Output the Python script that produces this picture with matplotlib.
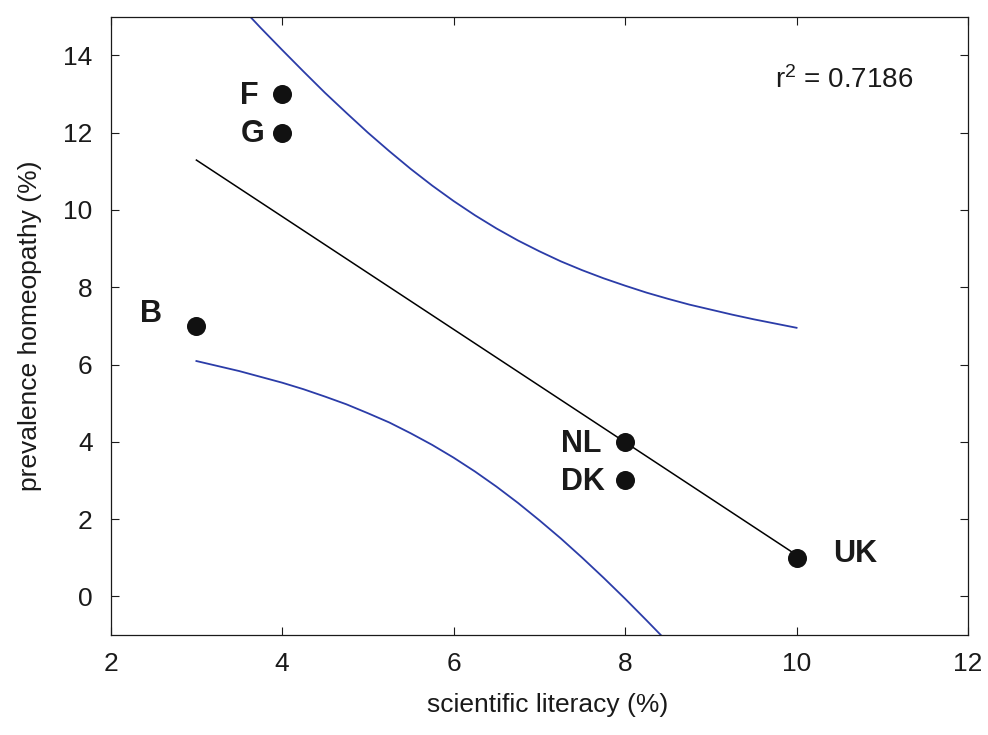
import numpy as np
import matplotlib
matplotlib.use("Agg")
import matplotlib.pyplot as plt

plt.rcParams["font.family"] = ["Liberation Sans", "DejaVu Sans"]
plt.rcParams["mathtext.fontset"] = "custom"
plt.rcParams["mathtext.rm"] = "Liberation Sans"
plt.rcParams["mathtext.it"] = "Liberation Sans:italic"

# =========================================================
# DATA
# =========================================================

countries = ["F", "G", "B", "NL", "DK", "UK"]
sci_literacy = [4, 4, 3, 8, 8, 10]
homeopathy = [13, 12, 7, 4, 3, 1]

# regression line end points
fit_x = [3, 10]
fit_y = [11.29, 1.07]

# blue bands
band_x = [3.0, 3.25, 3.5, 3.75, 4.0, 4.25, 4.5, 4.75, 5.0, 5.25, 5.5, 5.75,
          6.0, 6.25, 6.5, 6.75, 7.0, 7.25, 7.5, 7.75, 8.0, 8.25, 8.5, 8.75,
          9.0, 9.25, 9.5, 9.75, 10.0]
band_upper = [16.50, 15.90, 15.30, 14.71, 14.14, 13.58, 13.03, 12.51, 12.00,
              11.52, 11.06, 10.63, 10.23, 9.86, 9.52, 9.21, 8.93, 8.67, 8.44,
              8.23, 8.04, 7.86, 7.70, 7.55, 7.42, 7.29, 7.17, 7.06, 6.95]
band_lower = [6.09, 5.96, 5.83, 5.68, 5.53, 5.36, 5.17, 4.97, 4.74,
              4.50, 4.22, 3.92, 3.59, 3.23, 2.84, 2.42, 1.97, 1.50, 1.00,
              0.48, -0.06, -0.62, -1.19, -1.77, -2.36, -2.97, -3.58, -4.20, -4.82]

r2_text = "r$^2$ = 0.7186"

# label offsets in points (left edge, baseline) from each marker
label_offsets = {
    "F": (-30.0, -7.0),
    "G": (-30.0, -6.6),
    "B": (-40.5, 3.0),
    "NL": (-46.0, -7.0),
    "DK": (-46.0, -7.2),
    "UK": (26.5, -2.8),
}

# =========================================================
# PLOT
# =========================================================

fig = plt.figure(figsize=(9.88, 7.35), dpi=100)
ax = fig.add_axes([0.112, 0.136, 0.8678, 0.8413])

ax.plot(band_x, band_upper, color="#2b3ca8", lw=1.3, zorder=2)
ax.plot(band_x, band_lower, color="#2b3ca8", lw=1.3, zorder=2)
ax.plot(fit_x, fit_y, color="black", lw=1.1, zorder=3)

ax.plot(sci_literacy, homeopathy, "o", color="#111111", ms=13.7, mew=0, zorder=4)

for name, x, y in zip(countries, sci_literacy, homeopathy):
    ax.annotate(name, (x, y), xytext=label_offsets[name], textcoords="offset points",
                ha="left", va="baseline", fontsize=22, fontweight="bold", color="#1a1a1a")

ax.text(0.775, 0.8847, r2_text, transform=ax.transAxes, ha="left", va="baseline",
        fontsize=20, color="#1a1a1a")

ax.set_xlim(2, 12)
ax.set_ylim(-1, 15)
ax.set_xticks(np.arange(2, 13, 2))
ax.set_yticks(np.arange(0, 15, 2))

ax.tick_params(direction="in", length=5.8, width=0.8, top=True, right=True,
               labelsize=19, colors="#1a1a1a")
ax.tick_params(axis="x", pad=12)
ax.tick_params(axis="y", pad=13)

for s in ax.spines.values():
    s.set_linewidth(0.9)
    s.set_color("#1a1a1a")

ax.set_xlabel("scientific literacy (%)", fontsize=19, color="#1a1a1a")
ax.set_ylabel("prevalence homeopathy (%)", fontsize=19, color="#1a1a1a")
ax.xaxis.set_label_coords(0.510, -0.093)
ax.yaxis.set_label_coords(-0.080, 0.5)

fig.savefig("out.png", dpi=100)
